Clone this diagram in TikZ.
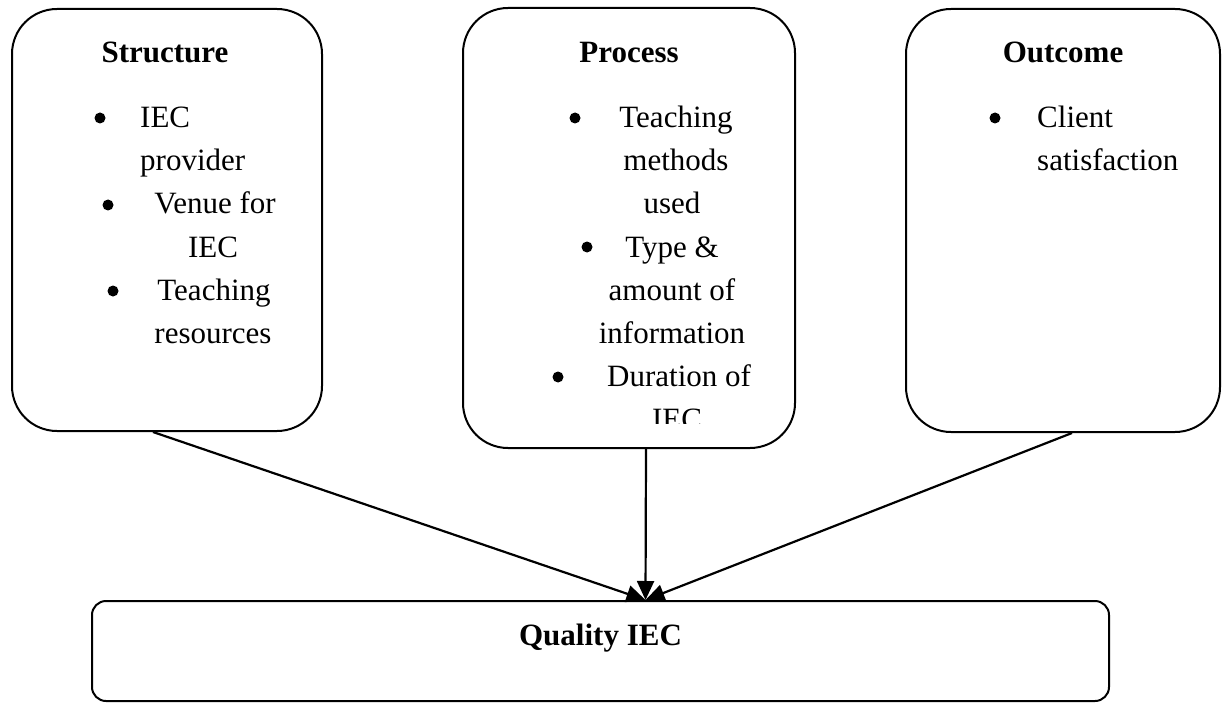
\documentclass[tikz,border=0pt]{standalone}
\usepackage{fontspec}
\setmainfont{Liberation Serif}
\usetikzlibrary{arrows.meta}
\tikzset{
  topbox/.style={draw, line width=2pt, rounded corners=45pt, inner sep=0pt},
  qbox/.style={draw, line width=2pt, rounded corners=14pt, inner sep=0pt},
  ttl/.style={font=\bfseries\fontsize{31}{31}\selectfont, anchor=base, inner sep=0pt},
  itm/.style={font=\fontsize{31}{31}\selectfont, anchor=base, inner sep=0pt},
  itmw/.style={font=\fontsize{31}{31}\selectfont, anchor=base west, inner sep=0pt},
  bul/.style={circle, fill, inner sep=0pt, minimum size=11pt},
  conn/.style={line width=2.2pt, -{Triangle[length=19pt,width=17pt]}}
}
\begin{document}
\begin{tikzpicture}[x=1pt,y=-1pt]
\useasboundingbox (0,0) rectangle (1222,703);
% boxes
\node[topbox, minimum width=310pt, minimum height=422pt] (s) at (167,220) {};
\node[topbox, minimum width=332pt, minimum height=440pt] (p) at (629,228) {};
\node[topbox, minimum width=314pt, minimum height=423pt] (o) at (1063,220.5) {};
\node[qbox, minimum width=1017pt, minimum height=100pt] (q) at (600.5,651) {};
% Structure
\node[ttl] (st) at (165,63) {Structure};
\node[bul] (sb1) at (100,118) {};
\node[itmw] (s1a) at (140,128) {IEC};
\node[itmw] (s1b) at (140,171) {provider};
\node[bul] (sb2) at (108,205) {};
\node[itm] (s2a) at (215,214) {Venue for};
\node[itm] (s2b) at (213,257) {IEC};
\node[bul] (sb3) at (113,291) {};
\node[itm] (s3a) at (214,300) {Teaching};
\node[itm] (s3b) at (213,343) {resources};
% Process
\node[ttl] (pt) at (629,63) {Process};
\node[bul] (pb1) at (575,118) {};
\node[itm] (p1a) at (676,128) {Teaching};
\node[itm] (p1b) at (676,171) {methods};
\node[itm] (p1c) at (672,214) {used};
\node[bul] (pb2) at (587,247) {};
\node[itm] (p2a) at (672,257) {Type \&};
\node[itm] (p2b) at (672,300) {amount of};
\node[itm] (p2c) at (672,343) {information};
\node[bul] (pb3) at (558,377) {};
\node[itmw] (p3a) at (607,386) {Duration of};
\begin{scope}
\clip (463,0) rectangle (795,423);
\node[itm] (p3b) at (677,429) {IEC};
\end{scope}
% Outcome
\node[ttl] (ot) at (1063,63) {Outcome};
\node[bul] (ob1) at (995,118) {};
\node[itmw] (o1a) at (1037,128) {Client};
\node[itmw] (o1b) at (1037,171) {satisfaction};
% Quality
\node[ttl] (qt) at (600.5,645) {Quality IEC};
% connectors
\coordinate (tip) at ([xshift=45pt]q.north);
\draw[conn] ([xshift=17pt]p.south) -- (tip);
\draw[conn] ([xshift=-14pt]s.south) -- (tip);
\draw[conn] ([xshift=9pt]o.south) -- (tip);
\end{tikzpicture}
\end{document}
